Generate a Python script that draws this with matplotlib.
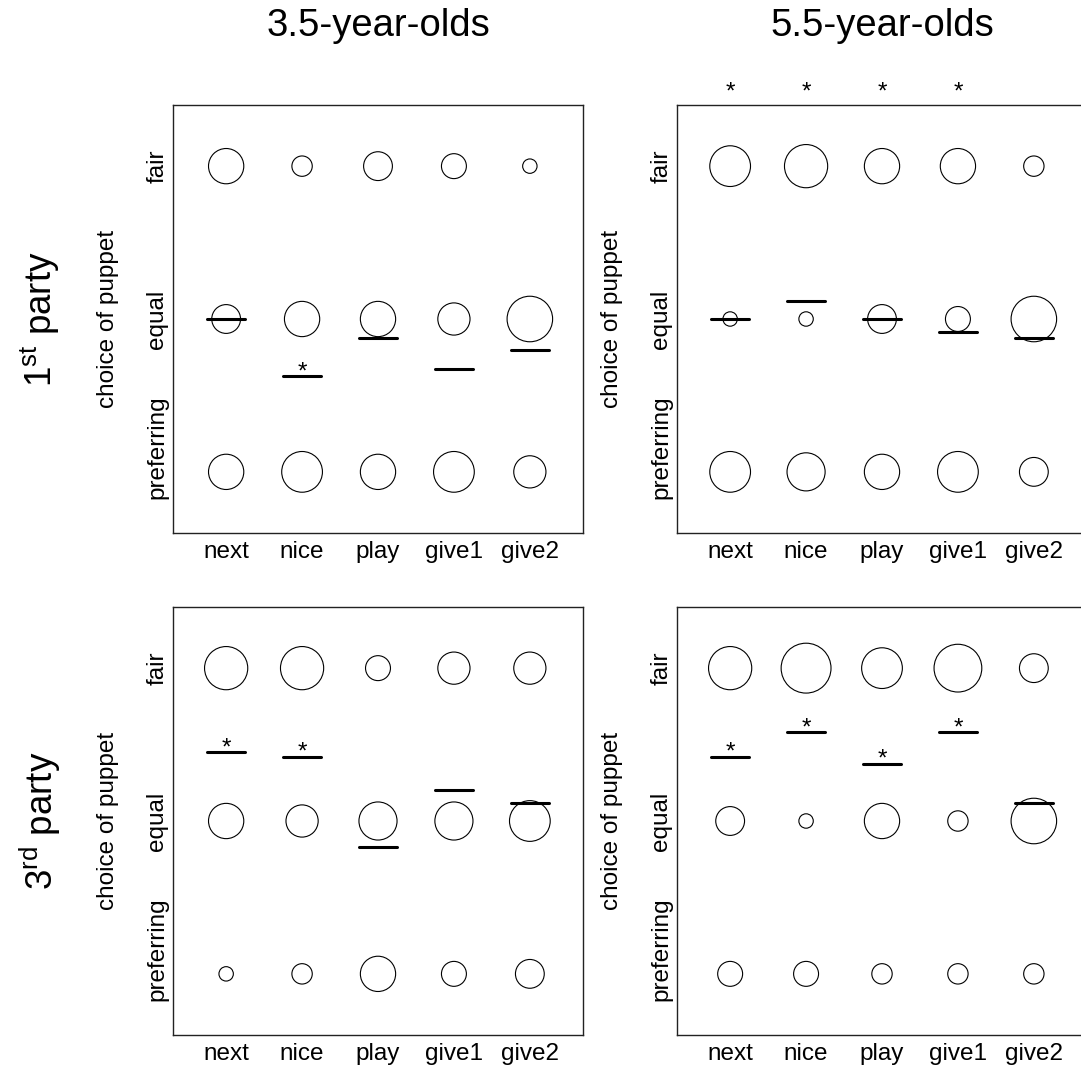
import numpy as np
import matplotlib
matplotlib.use("Agg")
import matplotlib.pyplot as plt
from matplotlib.transforms import offset_copy

plt.rcParams["font.family"] = ["Liberation Sans", "DejaVu Sans"]
plt.rcParams["mathtext.fontset"] = "custom"
plt.rcParams["mathtext.rm"] = "Liberation Sans"
plt.rcParams["mathtext.it"] = "Liberation Sans:italic"

tasks = ["next", "nice", "play", "give1", "give2"]
choice_labels = ["preferring", "equal", "fair"]
age_titles = ["3.5-year-olds", "5.5-year-olds"]
party_titles = [r"$1^{\mathrm{st}}$ party", r"$3^{\mathrm{rd}}$ party"]

# number of children per choice (preferring / equal / fair), one value per task
young_1st_pref = [6, 8, 6, 8, 5]
young_1st_equal = [4, 6, 6, 5, 10]
young_1st_fair = [6, 2, 4, 3, 1]
young_1st_mean = [1.00, 0.625, 0.875, 0.67, 0.80]
young_1st_star_mean = [0, 1, 0, 0, 0]
young_1st_star_top = [0, 0, 0, 0, 0]

old_1st_pref = [8, 7, 6, 8, 4]
old_1st_equal = [1, 1, 4, 3, 10]
old_1st_fair = [8, 9, 6, 6, 2]
old_1st_mean = [1.00, 1.12, 1.00, 0.915, 0.875]
old_1st_star_mean = [0, 0, 0, 0, 0]
old_1st_star_top = [1, 1, 1, 1, 0]

young_3rd_pref = [1, 2, 6, 3, 4]
young_3rd_equal = [6, 5, 7, 7, 8]
young_3rd_fair = [9, 9, 3, 5, 5]
young_3rd_mean = [1.45, 1.42, 0.83, 1.205, 1.12]
young_3rd_star_mean = [1, 1, 0, 0, 0]
young_3rd_star_top = [0, 0, 0, 0, 0]

old_3rd_pref = [3, 3, 2, 2, 2]
old_3rd_equal = [4, 1, 6, 2, 10]
old_3rd_fair = [9, 12, 8, 11, 4]
old_3rd_mean = [1.42, 1.58, 1.375, 1.58, 1.12]
old_3rd_star_mean = [1, 1, 1, 1, 0]
old_3rd_star_top = [0, 0, 0, 0, 0]

panels = [
    [(young_1st_pref, young_1st_equal, young_1st_fair, young_1st_mean,
      young_1st_star_mean, young_1st_star_top),
     (old_1st_pref, old_1st_equal, old_1st_fair, old_1st_mean,
      old_1st_star_mean, old_1st_star_top)],
    [(young_3rd_pref, young_3rd_equal, young_3rd_fair, young_3rd_mean,
      young_3rd_star_mean, young_3rd_star_top),
     (old_3rd_pref, old_3rd_equal, old_3rd_fair, old_3rd_mean,
      old_3rd_star_mean, old_3rd_star_top)],
]

W, H, DPI = 1081, 1072, 100
fig = plt.figure(figsize=(W / DPI, H / DPI), dpi=DPI)

ax_left = [173, 677]
ax_top = [105, 607]
ax_w, ax_h = 410, 428

RADIUS_PX = 7.2          # circle radius for a single child, in pixels
LABEL_FS = 17.5
TITLE_FS = 27.5
ROW_FS = 26.5
TOP_STAR_Y = 2.44
choice_label_pos = [0.16, 1, 2]

x = np.arange(1, len(tasks) + 1)

for r in range(2):
    for c in range(2):
        pref, equal, fair, mean, star_mean, star_top = panels[r][c]
        ax = fig.add_axes([ax_left[c] / W, 1 - (ax_top[r] + ax_h) / H,
                           ax_w / W, ax_h / H])
        for level, counts in enumerate([pref, equal, fair]):
            counts = np.asarray(counts, float)
            diam_pt = 2 * RADIUS_PX * np.sqrt(counts) * 72 / DPI
            ax.scatter(x, np.full(len(x), level), s=diam_pt ** 2,
                       facecolors="none", edgecolors="black",
                       linewidths=0.8, zorder=2)
        for xi, m in zip(x, mean):
            ax.plot([xi - 0.25, xi + 0.25], [m, m], color="black", lw=2.2,
                    solid_capstyle="round", zorder=3)
        for xi, m, s in zip(x, mean, star_mean):
            if s:
                ax.text(xi, m, "*", ha="center", va="baseline",
                        fontsize=LABEL_FS,
                        transform=offset_copy(ax.transData, fig=fig,
                                              x=0, y=-2, units="dots"))
        for xi, s in zip(x, star_top):
            if s:
                ax.text(xi, TOP_STAR_Y, "*", ha="center", va="baseline",
                        fontsize=LABEL_FS, clip_on=False)
        ax.set_xlim(0.3, 5.7)
        ax.set_ylim(-0.4, 2.4)
        ax.set_xticks(x)
        ax.set_xticklabels(tasks, fontsize=LABEL_FS)
        ax.set_yticks(choice_label_pos)
        ax.set_yticklabels(choice_labels, fontsize=LABEL_FS, rotation=90,
                           va="center")
        ax.tick_params(length=0, pad=5.5)
        ax.tick_params(axis="y", pad=3.5)
        for sp in ax.spines.values():
            sp.set_linewidth(1.0)
            sp.set_color("#222222")
        # axis title for the choice scale
        fig.text((ax_left[c] - 65) / W, 1 - (ax_top[r] + ax_h / 2) / H,
                 "choice of puppet", rotation=90, ha="center", va="center",
                 fontsize=LABEL_FS)

for c in range(2):
    fig.text((ax_left[c] + ax_w / 2) / W, 1 - 36 / H, age_titles[c],
             ha="center", va="baseline", fontsize=TITLE_FS)
for r in range(2):
    fig.text(40 / W, 1 - (ax_top[r] + ax_h / 2) / H, party_titles[r],
             rotation=90, ha="center", va="center", fontsize=ROW_FS)

fig.savefig("out.png", dpi=DPI)
